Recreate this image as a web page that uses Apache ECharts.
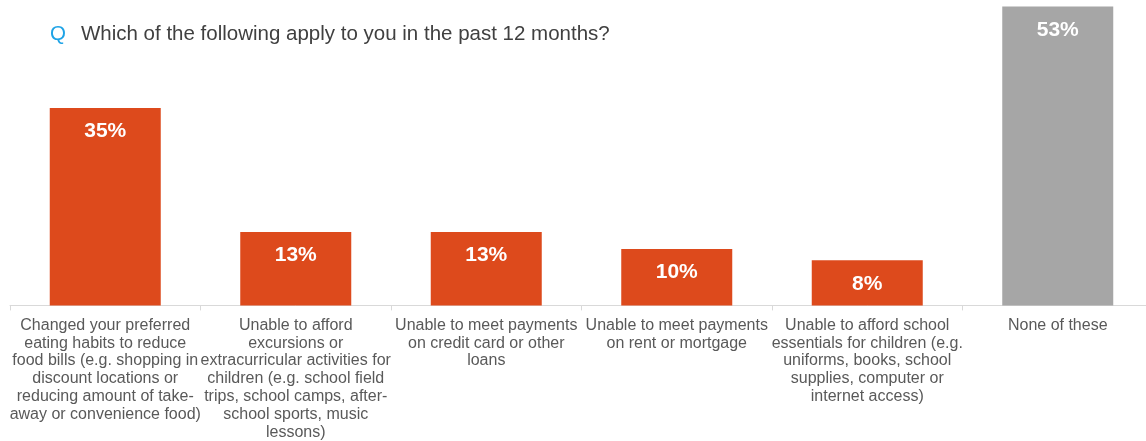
<!DOCTYPE html>
<html>
<head>
<meta charset="utf-8">
<style>
  html, body { margin: 0; padding: 0; background: #fff; overflow: hidden; }
  #main { width: 1160px; height: 441px; }
</style>
</head>
<body>
<div id="main"></div>
<script src="https://cdn.jsdelivr.net/npm/echarts@6/dist/echarts.min.js"></script>
<script>
var categories = [
  'Changed your preferred\neating habits to reduce\nfood bills (e.g. shopping in\ndiscount locations or\nreducing amount of take-\naway or convenience food)',
  'Unable to afford\nexcursions or\nextracurricular activities for\nchildren (e.g. school field\ntrips, school camps, after-\nschool sports, music\nlessons)',
  'Unable to meet payments\non credit card or other\nloans',
  'Unable to meet payments\non rent or mortgage',
  'Unable to afford school\nessentials for children (e.g.\nuniforms, books, school\nsupplies, computer or\ninternet access)',
  'None of these'
];
var values = [35, 13, 13, 10, 8, 53];
var barColors = ['#dd4a1c', '#dd4a1c', '#dd4a1c', '#dd4a1c', '#dd4a1c', '#a6a6a6'];

var myChart = echarts.init(document.getElementById('main'));

var option = {
  animation: false,
  textStyle: { fontFamily: 'Liberation Sans, Arial, sans-serif' },
  title: {
    left: 45,
    top: 19,
    text: '{q|Q}   {t|Which of the following apply to you in the past 12 months?}',
    textStyle: {
      fontWeight: 'normal',
      rich: {
        q: { color: '#1ea3e6', fontSize: 20.5, fontWeight: 'normal', fontFamily: 'Liberation Sans' },
        t: { color: '#404040', fontSize: 20.5, fontWeight: 'normal', fontFamily: 'Liberation Sans' }
      }
    }
  },
  grid: { left: 10, top: 2, height: 305, width: 1143, containLabel: false },
  xAxis: {
    type: 'category',
    data: categories,
    axisLine: { lineStyle: { color: '#d9d9d9', width: 1 } },
    axisTick: { show: true, length: 5, lineStyle: { color: '#d9d9d9' } },
    axisLabel: {
      interval: 0,
      color: '#595959',
      fontSize: 16,
      lineHeight: 17.8,
      margin: 11,
      align: 'center'
    }
  },
  yAxis: {
    type: 'value',
    min: 0,
    max: 53.8,
    show: false,
    splitLine: { show: false }
  },
  series: [{
    type: 'bar',
    barWidth: 111,
    data: values.map(function (v, i) {
      return { value: v, itemStyle: { color: barColors[i] } };
    }),
    label: {
      show: true,
      position: 'insideTop',
      distance: 13,
      color: '#ffffff',
      fontSize: 21,
      fontWeight: 'bold',
      formatter: '{c}%'
    }
  }]
};

myChart.setOption(option);
</script>
</body>
</html>
